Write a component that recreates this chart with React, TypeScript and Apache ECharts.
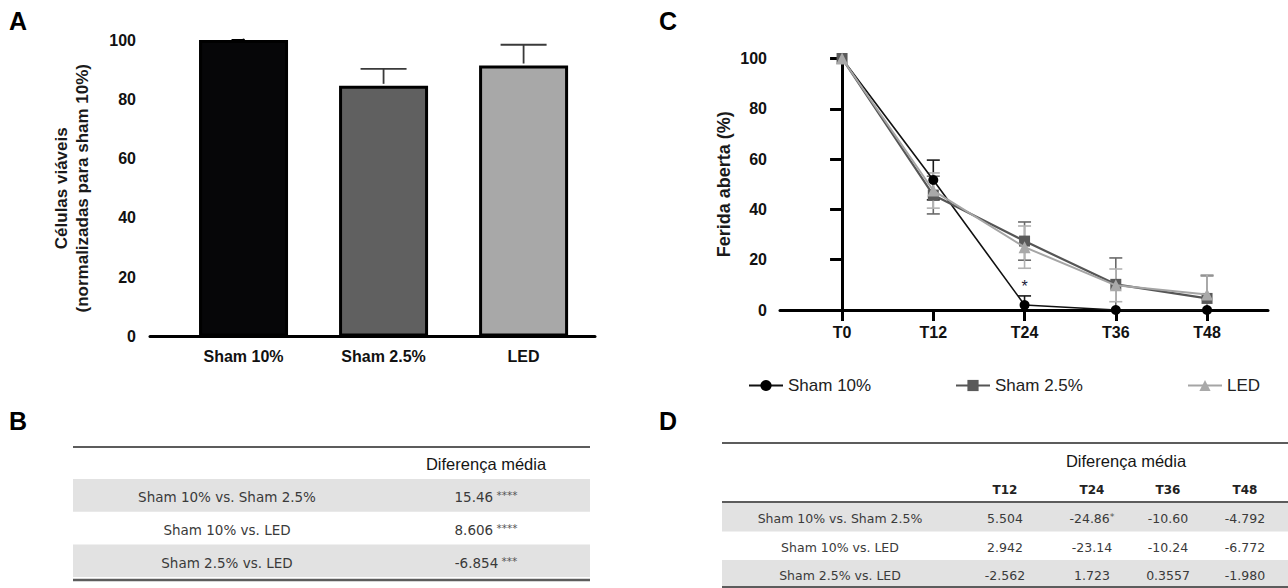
import React, { useEffect, useRef } from "react";
import * as echarts from "echarts";

// ---------- Panel A data ----------
const barCategories = ["Sham 10%", "Sham 2.5%", "LED"];
const barValues = [100, 84.54, 91.39];
const barSD = [0, 5.7, 7.0];
const barYTicks = [0, 20, 40, 60, 80, 100];

// ---------- Panel C data ----------
const timeLabels = ["T0", "T12", "T24", "T36", "T48"];
const sham10Mean = [100, 51.7, 2.0, 0, 0];
const sham10SD = [0, 7.9, 3.6, 0, 0];
const sham25Mean = [100, 45.7, 27.4, 10.2, 4.6];
const sham25SD = [0, 7.5, 7.6, 10.5, 9.0];
const ledMean = [100, 47.5, 25.0, 9.8, 6.2];
const ledSD = [0, 7.0, 8.4, 6.5, 7.8];
const sham10Sig = ["", "", "*", "", ""];

// ---------- Tables B / D ----------
const comparisonRows = ["Sham 10% vs. Sham 2.5%", "Sham 10% vs. LED", "Sham 2.5% vs. LED"];
const tableBValues = ["15.46", "8.606", "-6.854"];
const tableBStars = ["****", "****", "***"];
const tableDCols = ["T12", "T24", "T36", "T48"];
const tableDValues = [
  ["5.504", "-24.86", "-10.60", "-4.792"],
  ["2.942", "-23.14", "-10.24", "-6.772"],
  ["-2.562", "1.723", "0.3557", "-1.980"],
];
const tableDStars = [
  ["", "*", "", ""],
  ["", "", "", ""],
  ["", "", "", ""],
];

// ---------- styles ----------
const barFill = ["#060608", "#606060", "#a8a8a8"];
const AX = "Liberation Sans, Arial, sans-serif";
const TB = "DejaVu Sans, Verdana, sans-serif";

function buildTables(): any[] {
  const els: any[] = [];
  const lineCol = "#5c5c5c";
  const band = "#e2e2e2";
  const txt = "#3a3a3a";
  // Table B
  {
    const x0 = 73, x1 = 590, labelX = 227, valueX = 486;
    els.push({ type: "line", shape: { x1: x0, y1: 447, x2: x1, y2: 447 }, style: { stroke: lineCol, lineWidth: 2.2 } });
    els.push({ type: "text", x: valueX, y: 464, style: { text: "Diferença média", font: `16.5px ${AX}`, fill: "#151515", align: "center", verticalAlign: "middle" } });
    const bandTop = 479, rowH = 32.7;
    comparisonRows.forEach((r, i) => {
      const y0 = bandTop + i * rowH;
      if (i % 2 === 0) els.push({ type: "rect", shape: { x: x0, y: y0, width: x1 - x0, height: rowH }, style: { fill: band } });
      els.push({ type: "text", x: labelX, y: y0 + rowH / 2 + 2, style: { text: r, font: `13.5px ${TB}`, fill: txt, align: "center", verticalAlign: "middle" } });
      els.push({
        type: "text", x: valueX, y: y0 + rowH / 2 + 2,
        style: {
          text: `{v|${tableBValues[i]}} {s|${tableBStars[i]}}`,
          rich: { v: { font: `13.5px ${TB}`, fill: txt }, s: { font: `10.5px ${TB}`, fill: "#555", padding: [0, 0, 4, 0] } },
          align: "center", verticalAlign: "middle",
        },
      });
    });
    els.push({ type: "line", shape: { x1: x0, y1: 580, x2: x1, y2: 580 }, style: { stroke: lineCol, lineWidth: 2.4 } });
  }
  // Table D
  {
    const x0 = 722, x1 = 1288, labelX = 840;
    const colX = [1005, 1092, 1168, 1245];
    els.push({ type: "line", shape: { x1: x0, y1: 443, x2: x1, y2: 443 }, style: { stroke: lineCol, lineWidth: 2.2 } });
    els.push({ type: "text", x: 1126, y: 461, style: { text: "Diferença média", font: `16.5px ${AX}`, fill: "#151515", align: "center", verticalAlign: "middle" } });
    tableDCols.forEach((c, j) => {
      els.push({ type: "text", x: colX[j], y: 490, style: { text: c, font: `bold 12px ${TB}`, fill: "#222", align: "center", verticalAlign: "middle" } });
    });
    els.push({ type: "line", shape: { x1: x0, y1: 502, x2: x1, y2: 502 }, style: { stroke: lineCol, lineWidth: 2.2 } });
    const bandTop = 503, rowH = 28.5;
    comparisonRows.forEach((r, i) => {
      const y0 = bandTop + i * rowH;
      if (i % 2 === 0) els.push({ type: "rect", shape: { x: x0, y: y0, width: x1 - x0, height: rowH }, style: { fill: band } });
      els.push({ type: "text", x: labelX, y: y0 + rowH / 2 + 1.5, style: { text: r, font: `12.5px ${TB}`, fill: txt, align: "center", verticalAlign: "middle" } });
      tableDValues[i].forEach((v, j) => {
        els.push({
          type: "text", x: colX[j], y: y0 + rowH / 2 + 1.5,
          style: {
            text: tableDStars[i][j] ? `{v|${v}}{s|${tableDStars[i][j]}}` : `{v|${v}}`,
            rich: { v: { font: `12.5px ${TB}`, fill: txt }, s: { font: `9.5px ${TB}`, fill: "#555", padding: [0, 0, 4, 0] } },
            align: "center", verticalAlign: "middle",
          },
        });
      });
    });
    els.push({ type: "line", shape: { x1: x0, y1: 587, x2: x1, y2: 587 }, style: { stroke: lineCol, lineWidth: 2 } });
  }
  // panel letters
  const letter = (t: string, x: number, y: number) => ({
    type: "text", x, y, style: { text: t, font: `bold 25px ${AX}`, fill: "#000", align: "center", verticalAlign: "middle" },
  });
  els.push(letter("A", 18, 21), letter("B", 18, 421), letter("C", 668, 21), letter("D", 668, 421));
  return els;
}

function errBarsC(means: number[], sds: number[], color: string, sig?: string[]) {
  return {
    type: "custom",
    xAxisIndex: 1, yAxisIndex: 1,
    z: 1,
    clip: false,
    encode: { x: 0, y: 1 },
    data: means.map((m, i) => [i, m, sds[i]]),
    renderItem: (params: any, api: any) => {
      const x = api.value(0), m = api.value(1), sd = api.value(2);
      const s = sig ? sig[params.dataIndex] : "";
      const children: any[] = [];
      if (sd > 0) {
        const hi = api.coord([x, m + sd]);
        const lo = api.coord([x, Math.max(m - sd, 0)]);
        const half = 6.5;
        const st = { stroke: color, lineWidth: 1.6 };
        children.push({ type: "line", shape: { x1: hi[0], y1: hi[1], x2: lo[0], y2: lo[1] }, style: st });
        children.push({ type: "line", shape: { x1: hi[0] - half, y1: hi[1], x2: hi[0] + half, y2: hi[1] }, style: st });
        if (m - sd > 0) children.push({ type: "line", shape: { x1: lo[0] - half, y1: lo[1], x2: lo[0] + half, y2: lo[1] }, style: st });
        if (s) children.push({ type: "text", x: hi[0], y: hi[1] - 1, style: { text: s, font: `16px ${AX}`, fill: "#1b1b3a", align: "center", verticalAlign: "bottom" } });
      }
      return { type: "group", children };
    },
  };
}

export default function App() {
  const ref = useRef<HTMLDivElement>(null);
  useEffect(() => {
    const el = ref.current!;
    const chart = echarts.init(el, null, { renderer: "svg" });
    const axisLine = { show: true, lineStyle: { color: "#000", width: 3 } };
    const option: any = {
      animation: false,
      backgroundColor: "#fff",
      grid: [
        { left: 150, top: 40, width: 445, height: 296.5 },
        { left: 780, top: 58.5, width: 488, height: 251.5 },
      ],
      xAxis: [
        {
          gridIndex: 0, type: "value", min: -0.668, max: 2.51,
          axisLine, axisTick: { show: false }, splitLine: { show: false },
          axisLabel: {
            customValues: barCategories.map((_, i) => i),
            formatter: (v: number) => barCategories[Math.round(v)] ?? "",
            fontFamily: AX, fontWeight: "bold", fontSize: 16, color: "#111", margin: 12,
          },
        },
        {
          gridIndex: 1, type: "value", min: -0.68, max: 4.668,
          axisLine, splitLine: { show: false },
          axisTick: { show: true, customValues: timeLabels.map((_, i) => i), length: 11, inside: false, lineStyle: { color: "#000", width: 3 } },
          axisLabel: {
            customValues: timeLabels.map((_, i) => i),
            formatter: (v: number) => timeLabels[Math.round(v)] ?? "",
            fontFamily: AX, fontWeight: "bold", fontSize: 16, color: "#111", margin: 14,
          },
        },
      ],
      yAxis: [
        {
          gridIndex: 0, type: "value", min: barYTicks[0], max: barYTicks[barYTicks.length - 1], interval: 20,
          axisLine, splitLine: { show: false },
          axisTick: { show: true, length: 12, lineStyle: { color: "#000", width: 3 } },
          axisLabel: { fontFamily: AX, fontWeight: "bold", fontSize: 16, color: "#111", margin: 14 },
          name: "Células viáveis\n(normalizadas para sham 10%)",
          nameLocation: "middle", nameRotate: 90, nameGap: 57, nameMoveOverlap: false,
          nameTextStyle: { fontFamily: AX, fontWeight: "bold", fontSize: 17, lineHeight: 21, color: "#1a1a1a" },
        },
        {
          gridIndex: 1, type: "value", min: 0, max: 100, interval: 20,
          axisLine, splitLine: { show: false },
          axisTick: { show: true, length: 12, lineStyle: { color: "#000", width: 3 } },
          axisLabel: { fontFamily: AX, fontWeight: "bold", fontSize: 16, color: "#111", margin: 13 },
          name: "Ferida aberta (%)",
          nameLocation: "middle", nameRotate: 90, nameGap: 47, nameMoveOverlap: false,
          nameTextStyle: { fontFamily: AX, fontWeight: "bold", fontSize: 18, color: "#1a1a1a" },
        },
      ],
      legend: [
        { data: ["Sham 10%"], left: 748, top: 377, padding: 0, itemWidth: 34, itemHeight: 14, textStyle: { fontFamily: AX, fontSize: 17, color: "#222" } },
        { data: ["Sham 2.5%"], left: 955, top: 377, padding: 0, itemWidth: 34, itemHeight: 14, textStyle: { fontFamily: AX, fontSize: 17, color: "#222" } },
        { data: ["LED"], left: 1187, top: 377, padding: 0, itemWidth: 34, itemHeight: 14, textStyle: { fontFamily: AX, fontSize: 17, color: "#222" } },
      ],
      series: [
        {
          type: "bar", name: "viab", xAxisIndex: 0, yAxisIndex: 0, barWidth: 89,
          data: barValues.map((v, i) => ({ value: [i, v], itemStyle: { color: barFill[i], borderColor: "#000", borderWidth: 3 } })),
          z: 2,
        },
        {
          type: "custom", xAxisIndex: 0, yAxisIndex: 0, z: 3, encode: { x: 0, y: 1 },
          data: barValues.map((v, i) => [i, v, barSD[i]]),
          renderItem: (params: any, api: any) => {
            const x = api.value(0), v = api.value(1), sd = api.value(2);
            if (!(sd > 0)) return { type: "group", children: [] };
            const b = api.coord([x, v]);
            const t = api.coord([x, v + sd]);
            const st = { stroke: "#3a3a3a", lineWidth: 1.8 };
            return {
              type: "group",
              children: [
                { type: "line", shape: { x1: b[0], y1: b[1] - 2, x2: t[0], y2: t[1] }, style: st },
                { type: "line", shape: { x1: t[0] - 23, y1: t[1], x2: t[0] + 23, y2: t[1] }, style: st },
              ],
            };
          },
        },
        errBarsC(sham10Mean, sham10SD, "#1a1a1a", sham10Sig),
        errBarsC(sham25Mean, sham25SD, "#6a6a6a"),
        errBarsC(ledMean, ledSD, "#b2b2b2"),
        {
          type: "line", name: "Sham 10%", xAxisIndex: 1, yAxisIndex: 1, z: 4, clip: false,
          data: sham10Mean.map((v, i) => [i, v]),
          symbol: "circle", symbolSize: 10,
          lineStyle: { color: "#111", width: 1.6 }, itemStyle: { color: "#000" },
        },
        {
          type: "line", name: "Sham 2.5%", xAxisIndex: 1, yAxisIndex: 1, z: 5, clip: false,
          data: sham25Mean.map((v, i) => [i, v]),
          symbol: "rect", symbolSize: 11,
          lineStyle: { color: "#555", width: 2.2 }, itemStyle: { color: "#5a5a5a" },
        },
        {
          type: "line", name: "LED", xAxisIndex: 1, yAxisIndex: 1, z: 6, clip: false,
          data: ledMean.map((v, i) => [i, v]),
          symbol: "triangle", symbolSize: 12,
          lineStyle: { color: "#a5a5a5", width: 2 }, itemStyle: { color: "#a9a9a9" },
        },
      ],
      graphic: buildTables(),
    };
    chart.setOption(option);
    return () => chart.dispose();
  }, []);
  return <div ref={ref} style={{ position: "absolute", left: 0, top: 0, width: 1288, height: 588, background: "#fff" }} />;
}
